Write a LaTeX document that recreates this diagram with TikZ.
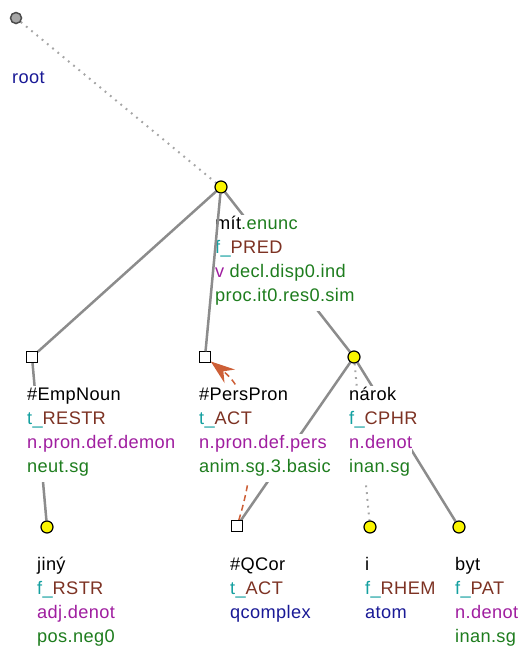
\documentclass[tikz,border=0pt]{standalone}
\usepackage{fontspec}
\setmainfont[LetterSpace=2]{Liberation Sans}
\usetikzlibrary{arrows.meta}
\pgfdeclarelayer{bg}
\pgfsetlayers{bg,main}
\definecolor{cteal}{RGB}{20,160,160}
\definecolor{cbrown}{RGB}{125,50,35}
\definecolor{cpurple}{RGB}{160,30,160}
\definecolor{cgreen}{RGB}{30,125,30}
\definecolor{cblue}{RGB}{25,25,150}
\definecolor{cedge}{RGB}{140,140,140}
\definecolor{cdot}{RGB}{165,165,165}
\definecolor{ccoref}{RGB}{205,95,55}
\definecolor{cyel}{RGB}{250,245,0}
\begin{document}
\begin{tikzpicture}[x=1pt,y=-1pt,
  lbl/.style={anchor=base west, inner xsep=0pt, inner ysep=0pt, fill=white,
    text height=14pt, text depth=10pt, font=\fontsize{18.2}{22}\selectfont},
  cnode/.style={circle, draw=black, line width=1.2pt, fill=cyel, minimum size=12pt, inner sep=0pt},
  snode/.style={rectangle, draw=black, line width=1pt, fill=white, minimum size=10.5pt, inner sep=0pt},
  rnode/.style={circle, draw=black!70, line width=1.5pt, fill=black!35, minimum size=11pt, inner sep=0pt},
  edge/.style={draw=cedge, line width=2.5pt},
  dotedge/.style={draw=cdot, line width=2pt, dash pattern=on 1.8pt off 5pt},
  coref/.style={draw=ccoref, line width=1.5pt, dash pattern=on 6pt off 4pt,
    -{Stealth[length=24pt,width=17pt,inset=8pt,sep=0pt]}}
]
\useasboundingbox (0,0) rectangle (520,646);
% nodes
\node[rnode] (root) at (16,18) {};
\node[cnode] (m) at (221,187) {};
\node[snode] (e) at (32,357) {};
\node[snode] (pp) at (205,357) {};
\node[cnode] (n) at (354,357) {};
\node[cnode] (j) at (47,527) {};
\node[snode] (q) at (237,526) {};
\node[cnode] (i) at (370,527) {};
\node[cnode] (b) at (459,527) {};

% labels
\node[lbl, text=cblue] (lroot) at (12,83) {root};

\node[lbl] (lm1) at (215,229) {mít\textcolor{cgreen}{.enunc}};
\node[lbl] (lm2) at (215,253) {\textcolor{cteal}{f\_}\textcolor{cbrown}{PRED}};
\node[lbl] (lm3) at (215,277) {\textcolor{cpurple}{v} \textcolor{cgreen}{decl.disp0.ind}};
\node[lbl, text=cgreen] (lm4) at (215,301) {proc.it0.res0.sim};

\node[lbl] (le1) at (27,400) {\#EmpNoun};
\node[lbl] (le2) at (27,424) {\textcolor{cteal}{t\_}\textcolor{cbrown}{RESTR}};
\node[lbl, text=cpurple] (le3) at (27,448) {n.pron.def.demon};
\node[lbl, text=cgreen] (le4) at (27,472) {neut.sg};

\node[lbl] (lp1) at (199,400) {\#PersPron};
\node[lbl] (lp2) at (199,424) {\textcolor{cteal}{t\_}\textcolor{cbrown}{ACT}};
\node[lbl, text=cpurple] (lp3) at (199,448) {n.pron.def.pers};
\node[lbl, text=cgreen] (lp4) at (199,472) {anim.sg.3.basic};

\node[lbl] (ln1) at (349,400) {nárok};
\node[lbl] (ln2) at (349,424) {\textcolor{cteal}{f\_}\textcolor{cbrown}{CPHR}};
\node[lbl, text=cpurple] (ln3) at (349,448) {n.denot};
\node[lbl, text=cgreen] (ln4) at (349,472) {inan.sg};

\node[lbl] (lj1) at (37,570) {jiný};
\node[lbl] (lj2) at (37,594) {\textcolor{cteal}{f\_}\textcolor{cbrown}{RSTR}};
\node[lbl, text=cpurple] (lj3) at (37,618) {adj.denot};
\node[lbl, text=cgreen] (lj4) at (37,642) {pos.neg0};

\node[lbl] (lq1) at (230,570) {\#QCor};
\node[lbl] (lq2) at (230,594) {\textcolor{cteal}{t\_}\textcolor{cbrown}{ACT}};
\node[lbl, text=cblue] (lq3) at (230,618) {qcomplex};

\node[lbl] (li1) at (365,570) {i};
\node[lbl] (li2) at (365,594) {\textcolor{cteal}{f\_}\textcolor{cbrown}{RHEM}};
\node[lbl, text=cblue] (li3) at (365,618) {atom};

\node[lbl] (lb1) at (455,570) {byt};
\node[lbl] (lb2) at (455,594) {\textcolor{cteal}{f\_}\textcolor{cbrown}{PAT}};
\node[lbl, text=cpurple] (lb3) at (455,618) {n.denot};
\node[lbl, text=cgreen] (lb4) at (455,642) {inan.sg};

% edges
\begin{pgfonlayer}{bg}
\draw[dotedge] (root) -- (m);
\draw[edge] (m) -- (e);
\draw[edge] (m) -- (n);
\draw[edge] (e) -- (j);
\draw[edge] (n) -- (q);
\draw[dotedge] (n) -- (i);
\draw[edge] (n) -- (b);
\draw[coref] (q) .. controls (262,445) and (250,392) .. (pp);
\end{pgfonlayer}
\draw[edge] (m) -- (pp);
\end{tikzpicture}
\end{document}
